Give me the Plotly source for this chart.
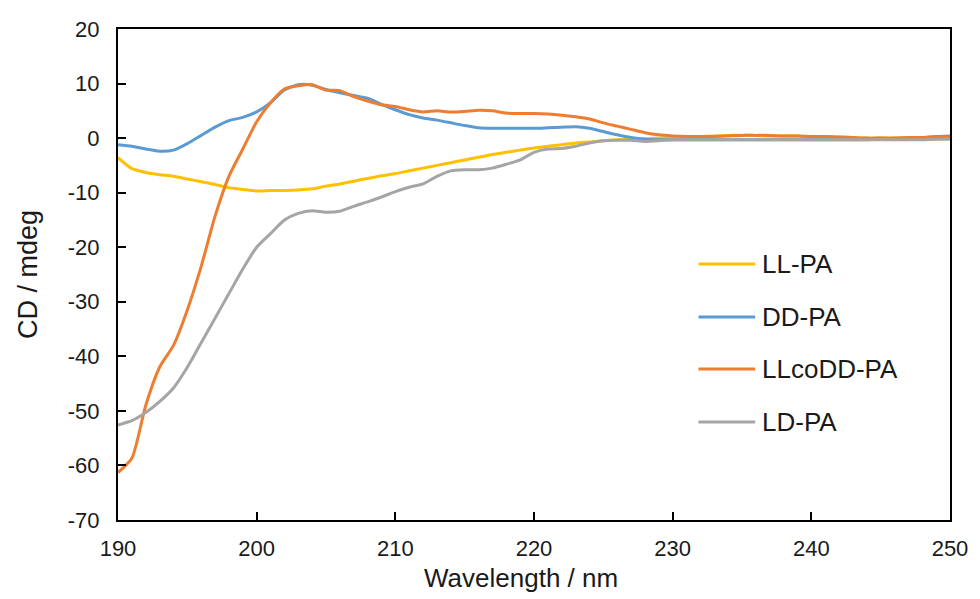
import plotly.graph_objects as go

# Wavelength grid (nm)
wavelength = list(range(190, 251))

# CD signals (mdeg), one value per nm
ll_pa = [-3.6, -5.6, -6.3, -6.7, -7.0, -7.5, -8.0, -8.5, -9.1, -9.4,
         -9.7, -9.6, -9.6, -9.5, -9.3, -8.8, -8.4, -7.9, -7.4, -6.9,
         -6.5, -6.0, -5.5, -5.0, -4.5, -4.0, -3.5, -3.0, -2.6, -2.2,
         -1.8, -1.5, -1.2, -0.9, -0.7, -0.5, -0.3, -0.2, -0.1, 0.0,
         0.1, 0.2, 0.3, 0.4, 0.5, 0.5, 0.5, 0.4, 0.4, 0.4,
         0.3, 0.3, 0.2, 0.1, 0.0, 0.0, 0.0, 0.0, 0.0, 0.0, 0.0]

dd_pa = [-1.2, -1.5, -2.0, -2.4, -2.2, -1.0, 0.5, 2.0, 3.2, 3.8,
         4.8, 6.5, 8.8, 9.8, 9.7, 8.9, 8.3, 7.8, 7.3, 6.2,
         5.2, 4.3, 3.7, 3.3, 2.8, 2.3, 1.9, 1.8, 1.8, 1.8,
         1.8, 1.9, 2.0, 2.1, 1.8, 1.2, 0.6, 0.1, -0.2, -0.3,
         -0.3, -0.3, -0.3, -0.3, -0.3, -0.3, -0.3, -0.3, -0.3, -0.3,
         -0.3, -0.3, -0.3, -0.3, -0.3, -0.2, -0.1, 0.0, 0.1, 0.3, 0.4]

llcodd_pa = [-61.3, -58.7, -49.0, -42.0, -38.0, -31.5, -23.5, -14.3, -7.0, -2.0,
             3.0, 6.5, 9.0, 9.6, 9.8, 8.8, 8.7, 7.6, 6.8, 6.1,
             5.8, 5.2, 4.8, 5.0, 4.8, 4.9, 5.1, 5.0, 4.6, 4.5,
             4.5, 4.4, 4.2, 3.9, 3.5, 2.8, 2.2, 1.6, 1.0, 0.6,
             0.4, 0.3, 0.3, 0.3, 0.4, 0.5, 0.5, 0.5, 0.4, 0.4,
             0.3, 0.3, 0.2, 0.1, 0.0, 0.0, 0.0, 0.1, 0.1, 0.2, 0.2]

ld_pa = [-52.6, -51.8, -50.3, -48.3, -45.8, -42.0, -37.5, -33.0, -28.5, -24.0,
         -20.0, -17.5, -15.0, -13.8, -13.3, -13.6, -13.4, -12.5, -11.7, -10.8,
         -9.8, -9.0, -8.4, -7.0, -6.0, -5.8, -5.8, -5.5, -4.8, -4.0,
         -2.6, -2.0, -1.9, -1.5, -0.9, -0.5, -0.4, -0.4, -0.6, -0.5,
         -0.3, -0.3, -0.3, -0.3, -0.3, -0.3, -0.3, -0.3, -0.3, -0.3,
         -0.3, -0.3, -0.3, -0.3, -0.3, -0.3, -0.3, -0.3, -0.3, -0.2, -0.2]

series_names = ["LL-PA", "DD-PA", "LLcoDD-PA", "LD-PA"]
series_values = [ll_pa, dd_pa, llcodd_pa, ld_pa]
series_colors = ["#FFC000", "#5B9BD5", "#ED7D31", "#A5A5A5"]

x_ticks = [190, 200, 210, 220, 230, 240, 250]
y_ticks = [20, 10, 0, -10, -20, -30, -40, -50, -60, -70]

W, H = 980, 599
L, R, T, B = 118, 25, 29, 79
FONT = "Liberation Sans, Arial, sans-serif"
TXT = "#1a1a1a"

fig = go.Figure()
for name, vals, col in zip(series_names, series_values, series_colors):
    fig.add_trace(go.Scatter(
        x=wavelength, y=vals, mode="lines", name=name, showlegend=False,
        line=dict(color=col, width=3, shape="spline", smoothing=0.6),
    ))


def px_to_paper(px, py):
    return (px - L) / (W - L - R), (H - B - py) / (H - T - B)


# Hand-placed legend: long line sample followed by the series name
legend_rows = [264, 317, 369, 422]
shapes = []
annotations = []
for name, col, py in zip(series_names, series_colors, legend_rows):
    x0, y0 = px_to_paper(702, py)
    x1, _ = px_to_paper(759, py)
    shapes.append(dict(type="line", xref="paper", yref="paper",
                       x0=x0, x1=x1, y0=y0, y1=y0,
                       line=dict(color=col, width=3)))
    xt, _ = px_to_paper(764, py)
    annotations.append(dict(xref="paper", yref="paper", x=xt, y=y0,
                            xanchor="left", yanchor="middle", showarrow=False,
                            text=name, font=dict(family=FONT, size=26, color=TXT)))

# x-axis title, placed a little left of the plot centre
tx, ty = px_to_paper(523, 578)
annotations.append(dict(xref="paper", yref="paper", x=tx, y=ty,
                        xanchor="center", yanchor="middle", showarrow=False,
                        text="Wavelength / nm", font=dict(family=FONT, size=26, color=TXT)))

fig.update_layout(
    width=W, height=H,
    margin=dict(l=L, r=R, t=T, b=B),
    paper_bgcolor="white", plot_bgcolor="white",
    font=dict(family=FONT, size=22, color=TXT),
    shapes=shapes, annotations=annotations,
    xaxis=dict(
        range=[190, 250], tickvals=x_ticks, ticktext=[str(v) for v in x_ticks],
        showgrid=False, zeroline=False,
        showline=True, linecolor="black", linewidth=2, mirror=True,
        ticks="inside", ticklen=8, tickwidth=2, tickcolor="black",
        tickfont=dict(family=FONT, size=22, color=TXT),
        ticklabelstandoff=8,
    ),
    yaxis=dict(
        range=[-70, 20], tickvals=y_ticks, ticktext=[str(v) for v in y_ticks],
        showgrid=False, zeroline=False,
        showline=True, linecolor="black", linewidth=2, mirror=True,
        ticks="inside", ticklen=8, tickwidth=2, tickcolor="black",
        tickfont=dict(family=FONT, size=22, color=TXT),
        ticklabelstandoff=12,
        title=dict(text="CD / mdeg", font=dict(family=FONT, size=27, color=TXT), standoff=22),
    ),
)

fig.write_html("out.html")
